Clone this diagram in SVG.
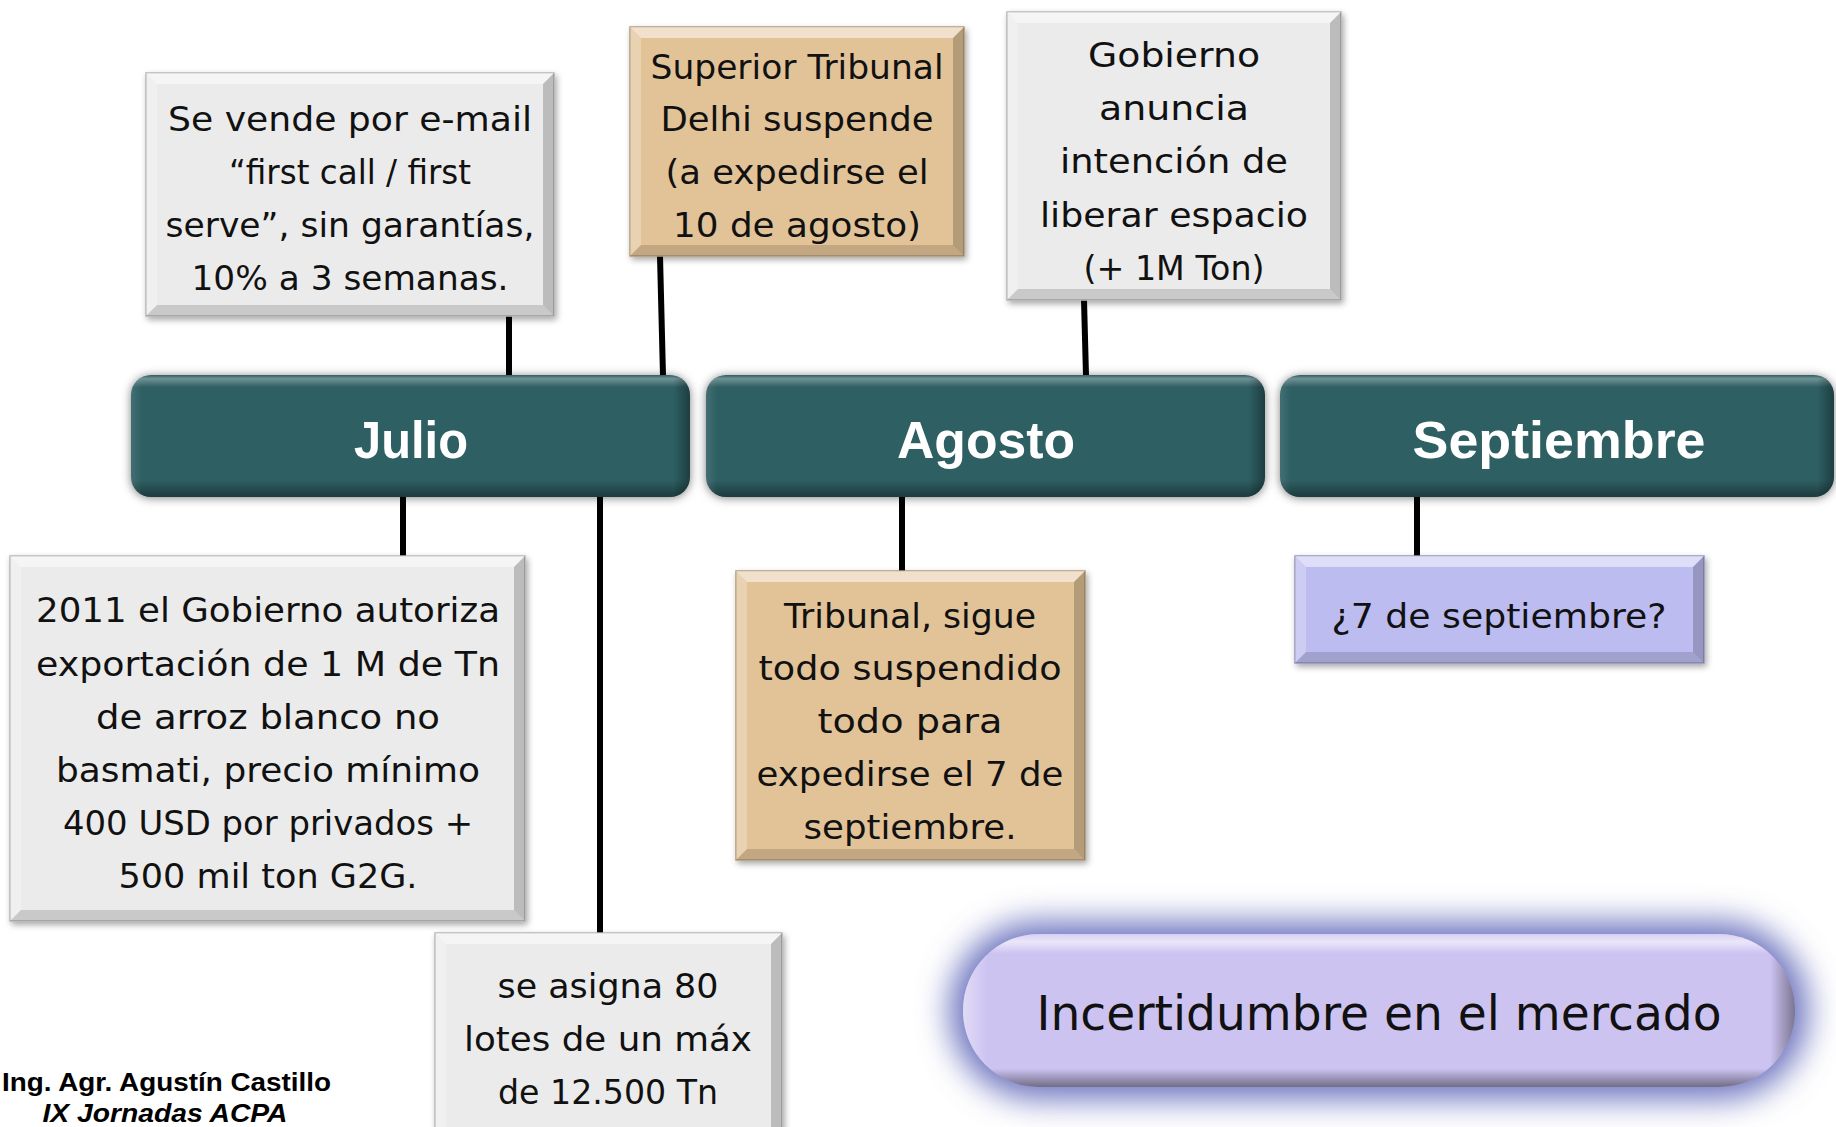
<svg xmlns="http://www.w3.org/2000/svg" width="1836" height="1127" viewBox="0 0 1836 1127">
<defs>
<filter id="sh" x="-10%" y="-10%" width="125%" height="125%">
<feDropShadow dx="2" dy="3" stdDeviation="3" flood-color="#000" flood-opacity="0.35"/>
</filter>
<filter id="shBar" x="-5%" y="-20%" width="110%" height="140%">
<feDropShadow dx="0" dy="1" stdDeviation="5" flood-color="#000" flood-opacity="0.5"/>
</filter>
<filter id="glow" x="-20%" y="-60%" width="140%" height="220%">
<feGaussianBlur stdDeviation="16"/>
</filter>
<linearGradient id="barV" x1="0" y1="0" x2="0" y2="1">
<stop offset="0" stop-color="#fff" stop-opacity="0"/>
<stop offset="0.03" stop-color="#fff" stop-opacity="0.32"/>
<stop offset="0.1" stop-color="#fff" stop-opacity="0"/>
<stop offset="0.86" stop-color="#000" stop-opacity="0"/>
<stop offset="1" stop-color="#000" stop-opacity="0.38"/>
</linearGradient>
<linearGradient id="barH" x1="0" y1="0" x2="1" y2="0">
<stop offset="0" stop-color="#fff" stop-opacity="0.1"/>
<stop offset="0.02" stop-color="#fff" stop-opacity="0"/>
<stop offset="0.97" stop-color="#000" stop-opacity="0"/>
<stop offset="1" stop-color="#000" stop-opacity="0.35"/>
</linearGradient>
<linearGradient id="pillV" x1="0" y1="0" x2="0" y2="1">
<stop offset="0" stop-color="#fff" stop-opacity="0.2"/>
<stop offset="0.05" stop-color="#fff" stop-opacity="0.6"/>
<stop offset="0.13" stop-color="#fff" stop-opacity="0"/>
<stop offset="0.88" stop-color="#000" stop-opacity="0"/>
<stop offset="1" stop-color="#000" stop-opacity="0.45"/>
</linearGradient>
<linearGradient id="pillH" x1="0" y1="0" x2="1" y2="0">
<stop offset="0" stop-color="#fff" stop-opacity="0.4"/>
<stop offset="0.03" stop-color="#fff" stop-opacity="0"/>
<stop offset="0.97" stop-color="#000" stop-opacity="0"/>
<stop offset="1" stop-color="#000" stop-opacity="0.4"/>
</linearGradient>
</defs>
<style>
.gray{fill:#EBEBEB;stroke:#B5B5B5;stroke-width:1.5}
.tan{fill:#E2C398;stroke:#B39A77;stroke-width:1.5}
.purp{fill:#BCBCF0;stroke:#9494C0;stroke-width:1.5}
.bt{fill:#fff;fill-opacity:0.5}
.bl{fill:#fff;fill-opacity:0.25}
.br{fill:#000;fill-opacity:0.2}
.bb{fill:#000;fill-opacity:0.14}
.bar{fill:#2E5F63}
.t{font-family:"DejaVu Sans","Noto Sans",sans-serif;font-size:34px;fill:#111;text-anchor:middle}
.m{font-family:"Liberation Sans",Arial,sans-serif;font-weight:bold;font-size:52px;fill:#fff;text-anchor:middle}
.big{font-family:"DejaVu Sans","Noto Sans",sans-serif;font-size:48px;fill:#111;text-anchor:middle}
.ft{font-family:"Liberation Sans",Arial,sans-serif;font-weight:bold;font-size:26px;fill:#000}
.conn line{stroke:#000;stroke-width:6}
</style>
<rect width="1836" height="1127" fill="#fff"/>

<g class="conn" id="connectors">
<line x1="509" y1="316" x2="509" y2="376"/>
<line x1="660" y1="256" x2="663" y2="376"/>
<line x1="1084" y1="300" x2="1086" y2="376"/>
<line x1="403" y1="496" x2="403" y2="557"/>
<line x1="600" y1="496" x2="600" y2="934"/>
<line x1="902" y1="496" x2="902" y2="572"/>
<line x1="1417" y1="496" x2="1417" y2="557"/>
</g>

<g id="julio">
<rect class="bar" x="131" y="375" width="559" height="122" rx="20" filter="url(#shBar)"/>
<rect x="131" y="375" width="559" height="122" rx="20" fill="url(#barV)"/>
<rect x="131" y="375" width="559" height="122" rx="20" fill="url(#barH)"/>
<text class="m" x="411" y="458" textLength="114" lengthAdjust="spacingAndGlyphs">Julio</text>
</g>
<g id="agosto">
<rect class="bar" x="706" y="375" width="559" height="122" rx="20" filter="url(#shBar)"/>
<rect x="706" y="375" width="559" height="122" rx="20" fill="url(#barV)"/>
<rect x="706" y="375" width="559" height="122" rx="20" fill="url(#barH)"/>
<text class="m" x="986" y="458" textLength="178" lengthAdjust="spacingAndGlyphs">Agosto</text>
</g>
<g id="septiembre">
<rect class="bar" x="1280" y="375" width="554" height="122" rx="20" filter="url(#shBar)"/>
<rect x="1280" y="375" width="554" height="122" rx="20" fill="url(#barV)"/>
<rect x="1280" y="375" width="554" height="122" rx="20" fill="url(#barH)"/>
<text class="m" x="1559" y="458" textLength="293" lengthAdjust="spacingAndGlyphs">Septiembre</text>
</g>

<g id="se-vende">
<rect class="gray" x="146" y="73" width="408" height="243" filter="url(#sh)"/>
<polygon class="bt" points="146,73 554,73 543,84 157,84"/>
<polygon class="bl" points="146,73 157,84 157,305 146,316"/>
<polygon class="br" points="554,73 554,316 543,305 543,84"/>
<polygon class="bb" points="146,316 157,305 543,305 554,316"/>
<text class="t" x="350" y="131" textLength="364" lengthAdjust="spacingAndGlyphs">Se vende por e-mail</text>
<text class="t" x="350" y="184" textLength="242" lengthAdjust="spacingAndGlyphs">“first call / first</text>
<text class="t" x="350" y="237" textLength="369" lengthAdjust="spacingAndGlyphs">serve”, sin garantías,</text>
<text class="t" x="350" y="290" textLength="317" lengthAdjust="spacingAndGlyphs">10% a 3 semanas.</text>
</g>

<g id="superior-tribunal">
<rect class="tan" x="630" y="27" width="334" height="229" filter="url(#sh)"/>
<polygon class="bt" points="630,27 964,27 953,38 641,38"/>
<polygon class="bl" points="630,27 641,38 641,245 630,256"/>
<polygon class="br" points="964,27 964,256 953,245 953,38"/>
<polygon class="bb" points="630,256 641,245 953,245 964,256"/>
<text class="t" x="797" y="79" textLength="293" lengthAdjust="spacingAndGlyphs">Superior Tribunal</text>
<text class="t" x="797" y="131" textLength="273" lengthAdjust="spacingAndGlyphs">Delhi suspende</text>
<text class="t" x="797" y="184" textLength="263" lengthAdjust="spacingAndGlyphs">(a expedirse el</text>
<text class="t" x="797" y="237" textLength="248" lengthAdjust="spacingAndGlyphs">10 de agosto)</text>
</g>

<g id="gobierno-anuncia">
<rect class="gray" x="1007" y="12" width="334" height="288" filter="url(#sh)"/>
<polygon class="bt" points="1007,12 1341,12 1330,23 1018,23"/>
<polygon class="bl" points="1007,12 1018,23 1018,289 1007,300"/>
<polygon class="br" points="1341,12 1341,300 1330,289 1330,23"/>
<polygon class="bb" points="1007,300 1018,289 1330,289 1341,300"/>
<text class="t" x="1174" y="67" textLength="172" lengthAdjust="spacingAndGlyphs">Gobierno</text>
<text class="t" x="1174" y="120" textLength="150" lengthAdjust="spacingAndGlyphs">anuncia</text>
<text class="t" x="1174" y="173" textLength="228" lengthAdjust="spacingAndGlyphs">intención de</text>
<text class="t" x="1174" y="227" textLength="268" lengthAdjust="spacingAndGlyphs">liberar espacio</text>
<text class="t" x="1174" y="280" textLength="181" lengthAdjust="spacingAndGlyphs">(+ 1M Ton)</text>
</g>

<g id="gobierno-autoriza">
<rect class="gray" x="10" y="556" width="515" height="365" filter="url(#sh)"/>
<polygon class="bt" points="10,556 525,556 514,567 21,567"/>
<polygon class="bl" points="10,556 21,567 21,910 10,921"/>
<polygon class="br" points="525,556 525,921 514,910 514,567"/>
<polygon class="bb" points="10,921 21,910 514,910 525,921"/>
<text class="t" x="268" y="622" textLength="464" lengthAdjust="spacingAndGlyphs">2011 el Gobierno autoriza</text>
<text class="t" x="268" y="676" textLength="464" lengthAdjust="spacingAndGlyphs">exportación de 1 M de Tn</text>
<text class="t" x="268" y="729" textLength="344" lengthAdjust="spacingAndGlyphs">de arroz blanco no</text>
<text class="t" x="268" y="782" textLength="424" lengthAdjust="spacingAndGlyphs">basmati, precio mínimo</text>
<text class="t" x="268" y="835" textLength="410" lengthAdjust="spacingAndGlyphs">400 USD por privados +</text>
<text class="t" x="268" y="888" textLength="299" lengthAdjust="spacingAndGlyphs">500 mil ton G2G.</text>
</g>

<g id="se-asigna">
<rect class="gray" x="435" y="933" width="347" height="210" filter="url(#sh)"/>
<polygon class="bt" points="435,933 782,933 771,944 446,944"/>
<polygon class="bl" points="435,933 446,944 446,1132 435,1143"/>
<polygon class="br" points="782,933 782,1143 771,1132 771,944"/>
<text class="t" x="608" y="998" textLength="221" lengthAdjust="spacingAndGlyphs">se asigna 80</text>
<text class="t" x="608" y="1051" textLength="288" lengthAdjust="spacingAndGlyphs">lotes de un máx</text>
<text class="t" x="608" y="1104" textLength="220" lengthAdjust="spacingAndGlyphs">de 12.500 Tn</text>
</g>

<g id="tribunal-sigue">
<rect class="tan" x="736" y="571" width="349" height="289" filter="url(#sh)"/>
<polygon class="bt" points="736,571 1085,571 1074,582 747,582"/>
<polygon class="bl" points="736,571 747,582 747,849 736,860"/>
<polygon class="br" points="1085,571 1085,860 1074,849 1074,582"/>
<polygon class="bb" points="736,860 747,849 1074,849 1085,860"/>
<text class="t" x="910" y="628" textLength="252" lengthAdjust="spacingAndGlyphs">Tribunal, sigue</text>
<text class="t" x="910" y="680" textLength="303" lengthAdjust="spacingAndGlyphs">todo suspendido</text>
<text class="t" x="910" y="733" textLength="185" lengthAdjust="spacingAndGlyphs">todo para</text>
<text class="t" x="910" y="786" textLength="307" lengthAdjust="spacingAndGlyphs">expedirse el 7 de</text>
<text class="t" x="910" y="839" textLength="213" lengthAdjust="spacingAndGlyphs">septiembre.</text>
</g>

<g id="siete-septiembre">
<rect class="purp" x="1295" y="556" width="409" height="107" filter="url(#sh)"/>
<polygon class="bt" points="1295,556 1704,556 1693,567 1306,567"/>
<polygon class="bl" points="1295,556 1306,567 1306,652 1295,663"/>
<polygon class="br" points="1704,556 1704,663 1693,652 1693,567"/>
<polygon class="bb" points="1295,663 1306,652 1693,652 1704,663"/>
<text class="t" x="1499" y="628" textLength="335" lengthAdjust="spacingAndGlyphs">¿7 de septiembre?</text>
</g>

<g id="incertidumbre">
<rect x="950" y="922" width="858" height="177" rx="88" fill="#6A72BE" filter="url(#glow)"/>
<rect x="963" y="934" width="832" height="153" rx="76" fill="#CDC3F1"/>
<rect x="963" y="934" width="832" height="153" rx="76" fill="url(#pillV)"/>
<rect x="963" y="934" width="832" height="153" rx="76" fill="url(#pillH)"/>
<text class="big" x="1379" y="1030" textLength="685" lengthAdjust="spacingAndGlyphs">Incertidumbre en el mercado</text>
</g>

<g id="footer">
<text class="ft" x="2" y="1091" textLength="329" lengthAdjust="spacingAndGlyphs">Ing. Agr. Agustín Castillo</text>
<text class="ft" x="165" y="1122" text-anchor="middle" font-style="italic" textLength="245" lengthAdjust="spacingAndGlyphs">IX Jornadas ACPA</text>
</g>
</svg>
